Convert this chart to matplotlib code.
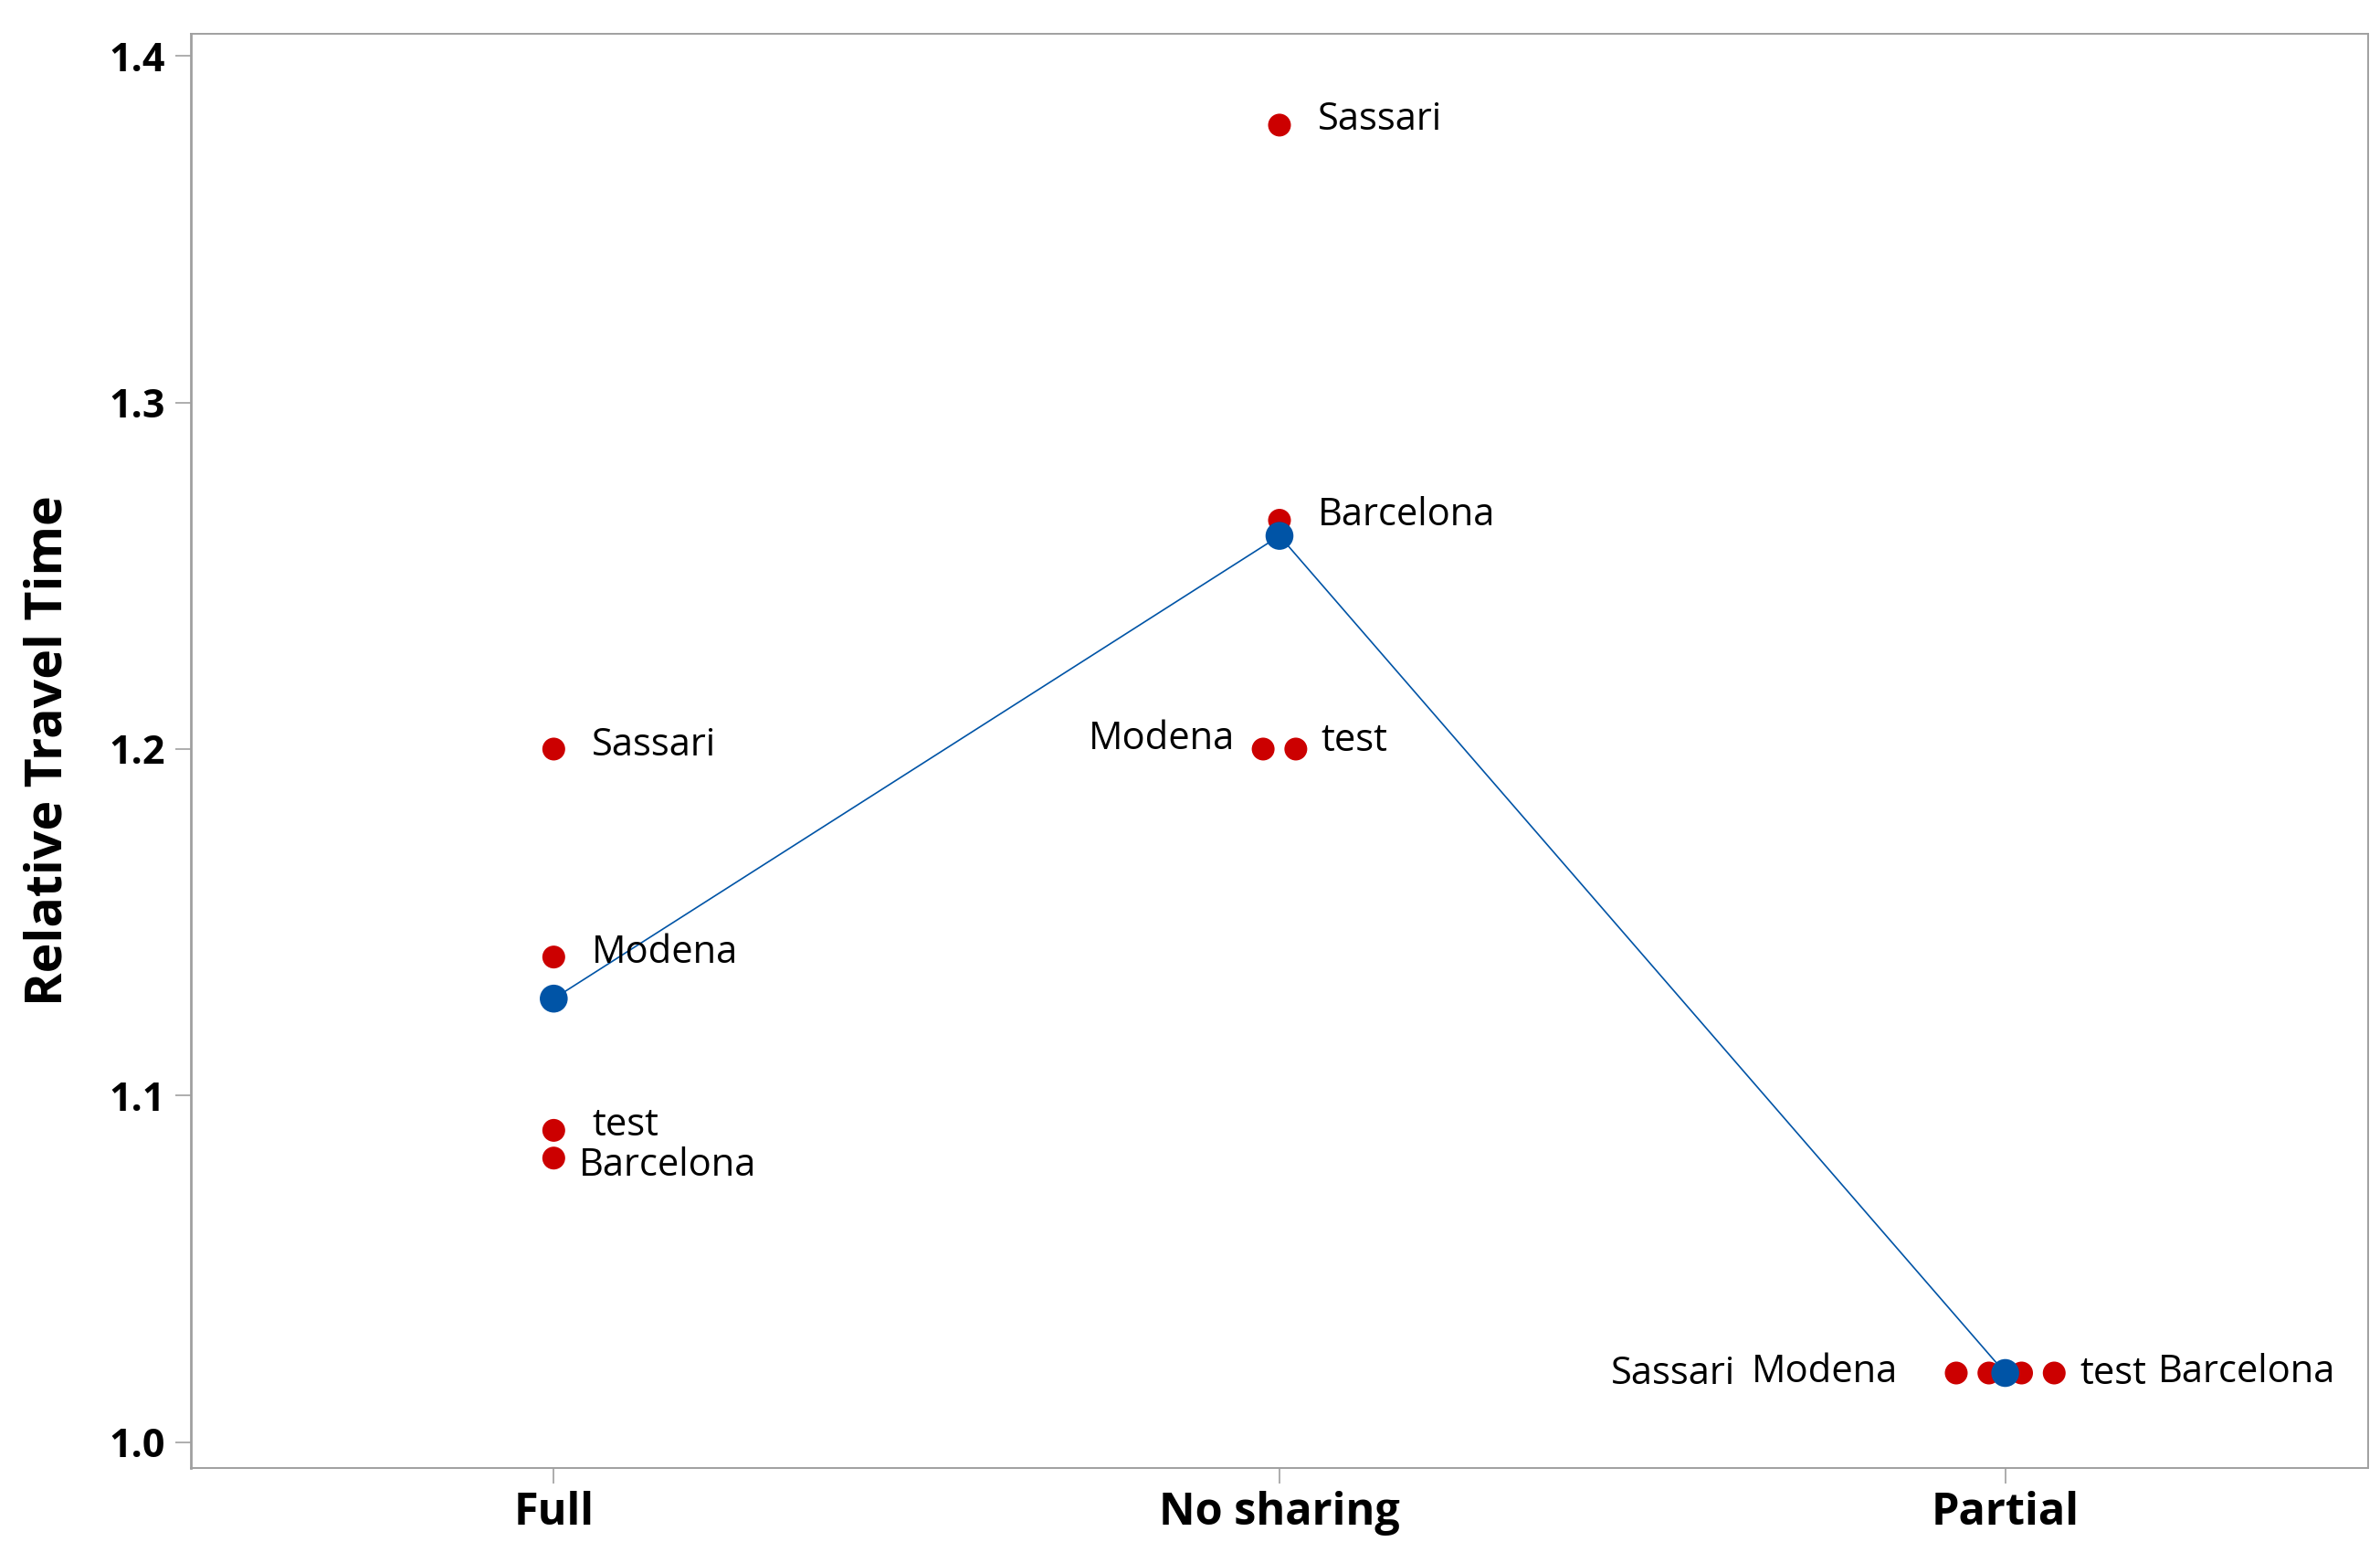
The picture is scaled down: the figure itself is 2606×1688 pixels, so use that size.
import numpy as np
import matplotlib
matplotlib.use("Agg")
import matplotlib.pyplot as plt

plt.rcParams['font.family'] = ['Open Sans', 'DejaVu Sans']

groups = ['Full', 'No sharing', 'Partial']
cities = ['Sassari', 'Modena', 'test', 'Barcelona']

# relative travel time per city, one list per sharing scheme
full_vals = [1.200, 1.140, 1.090, 1.082]
nosharing_vals = [1.380, 1.200, 1.200, 1.266]
partial_vals = [1.020, 1.020, 1.020, 1.020]

yticks = [1.0, 1.1, 1.2, 1.3, 1.4]

# label offsets (points) and alignment, per group / city
label_pos = {
    'Full': {'Sassari': (15, 1.5, 'left'), 'Modena': (15, 1.5, 'left'),
             'test': (15, 2, 'left'), 'Barcelona': (10, -3, 'left')},
    'No sharing': {'Sassari': (15, 2, 'left'), 'Modena': (-11, 3.8, 'right'),
                   'test': (10, 3.2, 'left'), 'Barcelona': (15, 2, 'left')},
    'Partial': {'Sassari': (-87, -0.5, 'right'), 'Modena': (-36, 0.5, 'right'),
                'test': (23, -0.5, 'left'), 'Barcelona': (41, 0.5, 'left')},
}

RED = '#cc0000'
BLUE = '#0054a6'
GRAY = '#a0a0a0'


def jitter(vals, step=0.045):
    # spread tied values sideways like an individual value plot
    vals = np.round(np.array(vals), 3)
    offs = np.zeros(len(vals))
    for v in np.unique(vals):
        idx = np.where(vals == v)[0]
        n = len(idx)
        if n > 1:
            offs[idx] = (np.arange(n) - (n - 1) / 2) * step
    return offs


fig = plt.figure(figsize=(13.03, 8.44), dpi=200)
ax = fig.add_axes([0.0802, 0.048, 0.9148, 0.930])

all_vals = [full_vals, nosharing_vals, partial_vals]
means = [np.mean(v) for v in all_vals]

ax.plot(range(len(groups)), means, color=BLUE, lw=0.6, zorder=2)

for gi, (g, vals) in enumerate(zip(groups, all_vals)):
    xs = gi + jitter(vals)
    ax.scatter(xs, vals, s=9**2, color=RED, edgecolors='none', zorder=3)
    for x, y, c in zip(xs, vals, cities):
        dx, dy, ha = label_pos[g][c]
        ax.annotate(c, (x, y), xytext=(dx, dy), textcoords='offset points',
                    ha=ha, va='center', fontsize=15, color='black', zorder=4)

ax.scatter(range(len(groups)), means, s=11**2, color=BLUE, edgecolors='none', zorder=5)

ax.set_xlim(-0.5, 2.5)
ax.set_ylim(0.9926, 1.4063)
ax.set_xticks(range(len(groups)))
ax.set_xticklabels(groups, fontsize=17.5, fontweight='bold')
ax.set_yticks(yticks)
ax.set_yticklabels(['%.1f' % t for t in yticks], fontsize=15.5, fontweight='bold')
ax.set_ylabel('Relative Travel Time', fontsize=20, fontweight='bold', labelpad=14)

for sp in ax.spines.values():
    sp.set_color(GRAY)
    sp.set_linewidth(0.7)
ax.spines['left'].set_linewidth(1.0)
ax.tick_params(axis='both', direction='out', length=6, width=0.6, color=GRAY, pad=4)
ax.tick_params(axis='x', pad=3)

fig.savefig('out.png', dpi=200)
